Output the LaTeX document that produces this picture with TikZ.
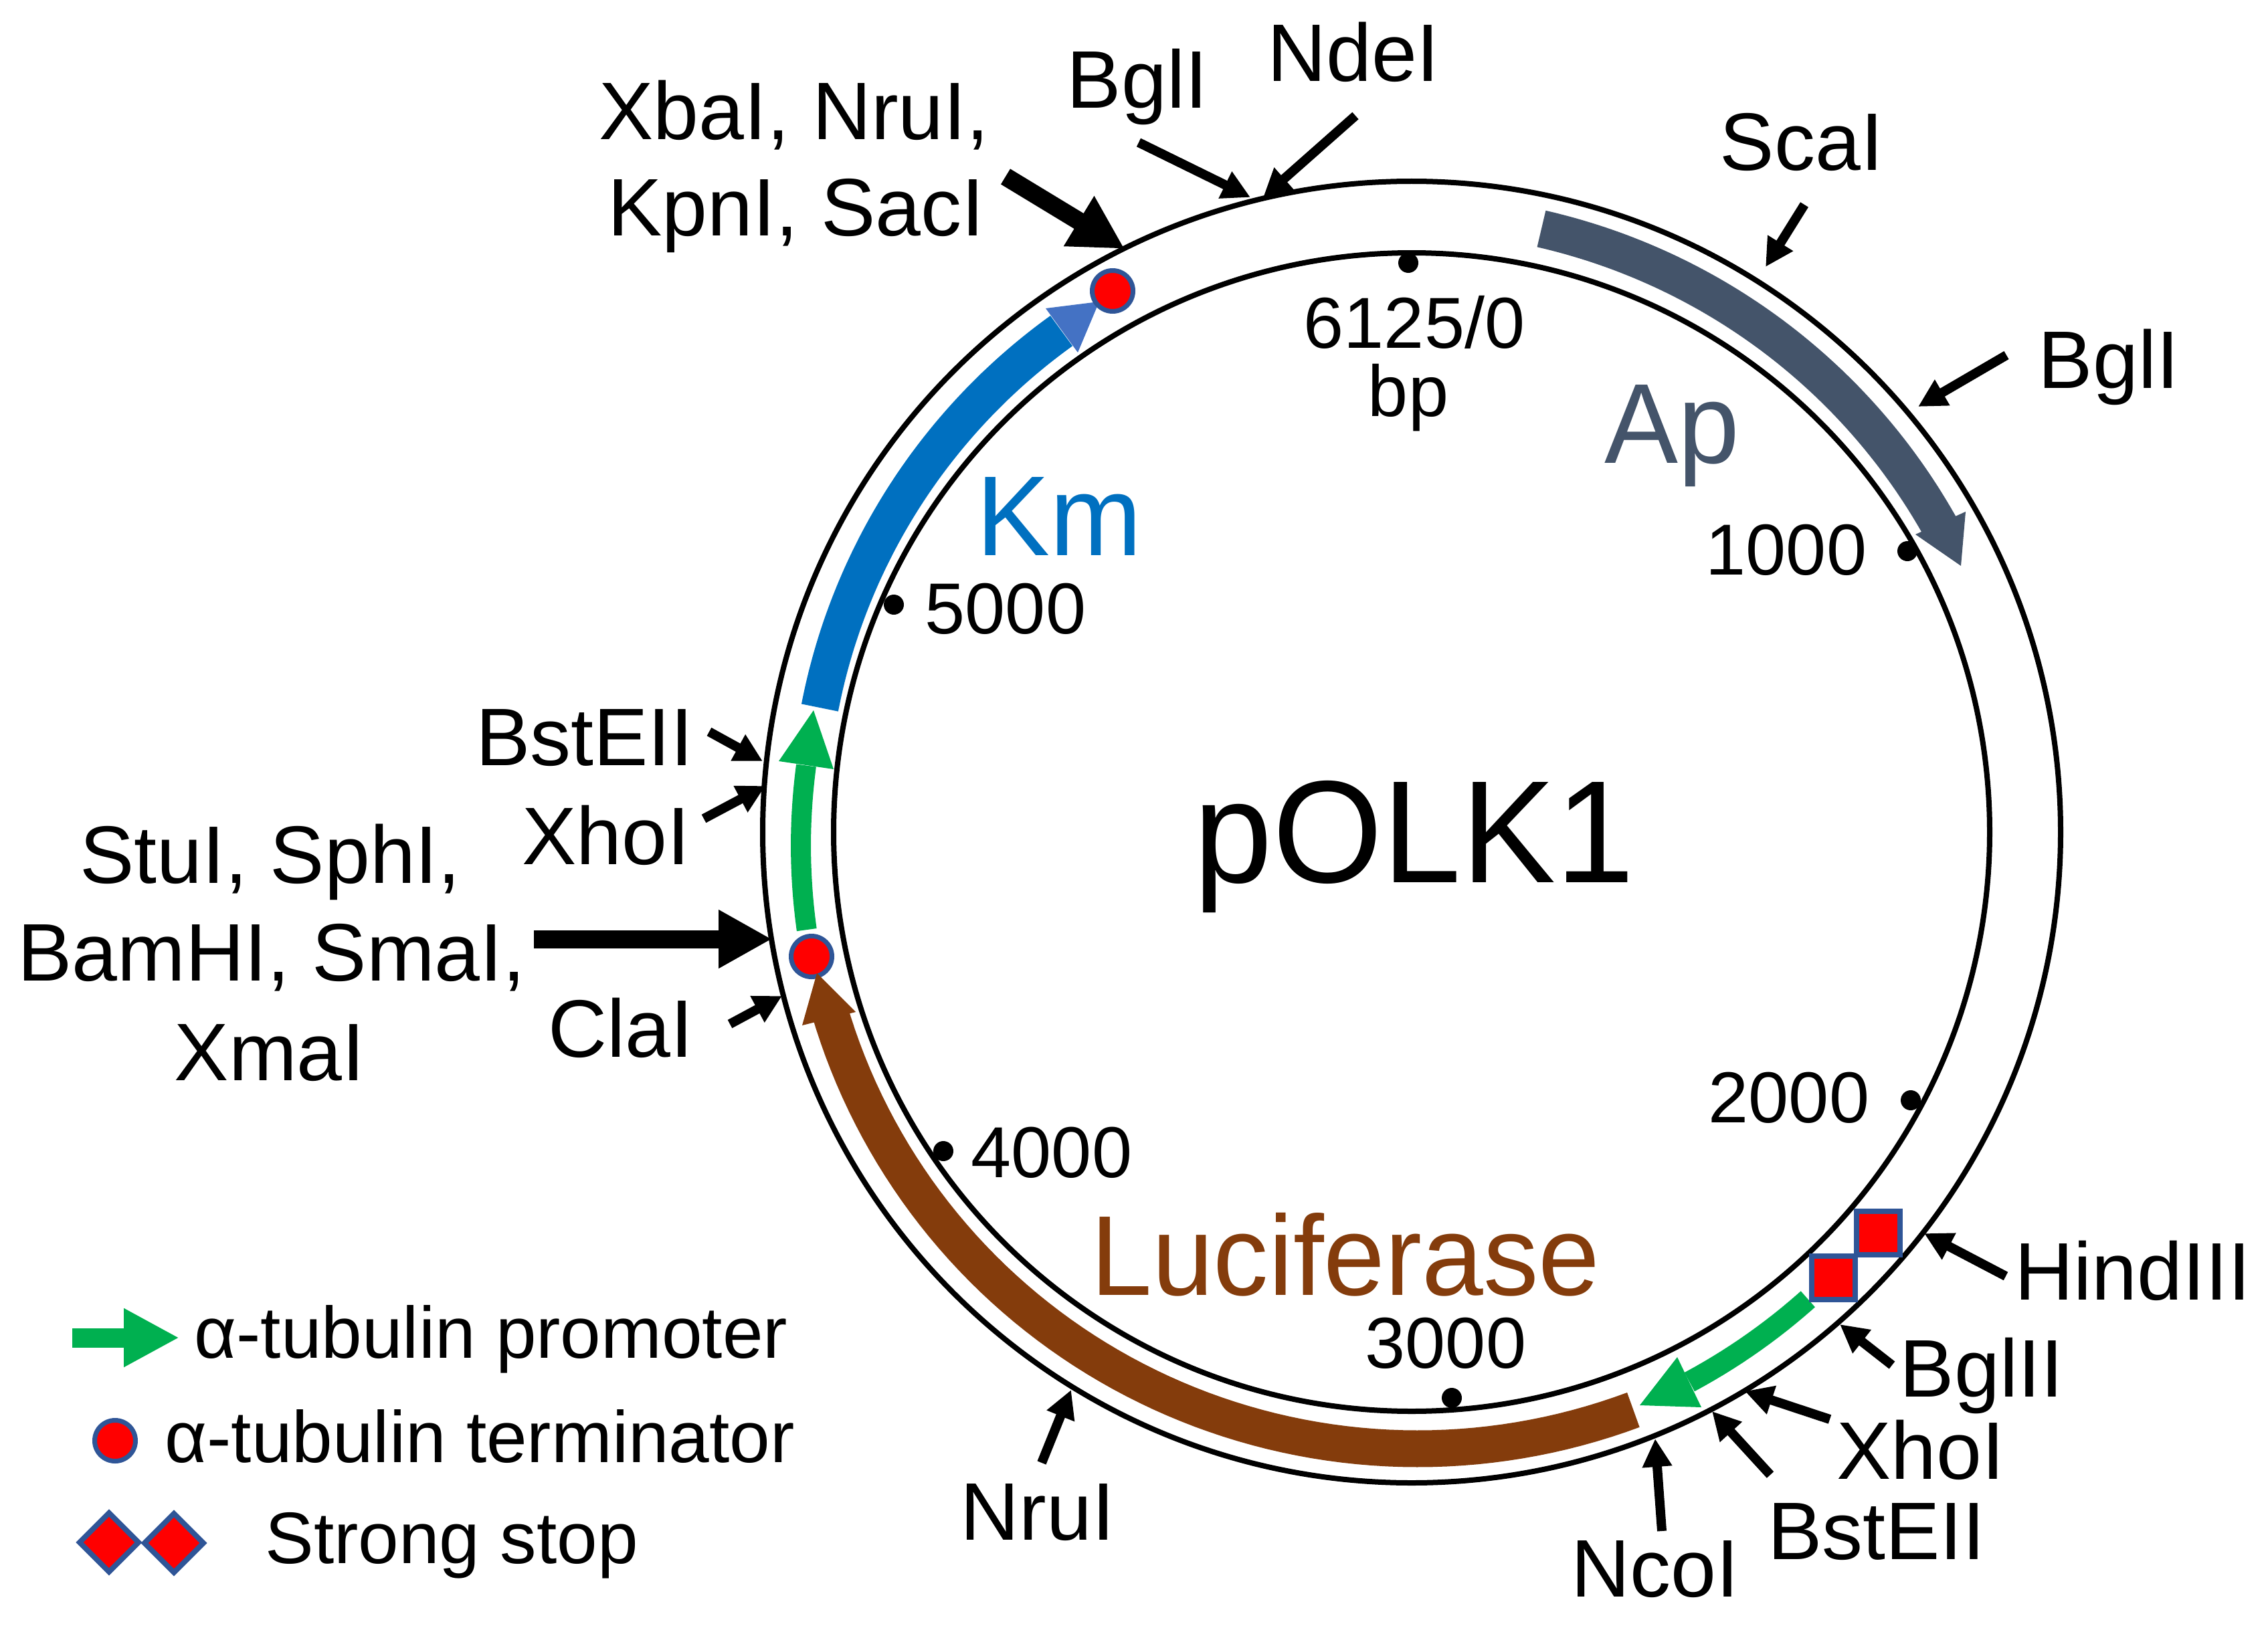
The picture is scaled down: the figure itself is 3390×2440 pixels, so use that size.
\documentclass[tikz,border=0pt]{standalone}
\usepackage{fontspec}
\usetikzlibrary{arrows.meta}
\setmainfont{Liberation Sans}
\newfontfamily\stretched[FakeStretch=0.97]{Liberation Sans}
\definecolor{apcol}{HTML}{44546A}
\definecolor{kmcol}{HTML}{0070C0}
\definecolor{kmhead}{HTML}{4472C4}
\definecolor{greencol}{HTML}{00B050}
\definecolor{browncol}{HTML}{843C0C}
\definecolor{rimcol}{HTML}{2F5597}
\newcommand{\cx}{2108}
\newcommand{\cy}{1244}
% band from (angle a, radius r) to (angle b, radius s), clockwise image angles
\newcommand{\band}[6]{\draw[#1,line width=#2pt,line cap=butt,line join=round]
  plot[domain=0:1,samples=70,variable=\t] ({\cx+(#4+(#6-#4)*\t)*cos(#3+(#5-#3)*\t)},{\cy+(#4+(#6-#4)*\t)*sin(#3+(#5-#3)*\t)});}
\newcommand{\cutarrow}[4]{\coordinate (#1a) at (#3); \coordinate (#1b) at (#4); \draw[#2] (#1a) -- (#1b);}
\tikzset{
  x=0.5pt,y=-0.5pt,
  ring/.style={draw=black,line width=4pt},
  site/.style={anchor=base,inner sep=0pt,font=\fontsize{61}{72}\selectfont,text=black},
  tick/.style={anchor=base,inner sep=0pt,font=\fontsize{54}{64}\selectfont,text=black},
  gene/.style={anchor=base,inner sep=0pt,font=\stretched\fontsize{85}{100}\selectfont},
  legendtext/.style={anchor=base west,inner sep=0pt,font=\fontsize{54.5}{64}\selectfont,text=black},
  tickdot/.style={circle,fill=black,draw=none,minimum size=15pt,inner sep=0pt},
  term/.style={circle,fill=red,draw=rimcol,line width=3.5pt,minimum size=30.5pt,inner sep=0pt},
  stopsq/.style={rectangle,fill=red,draw=rimcol,line width=4pt,minimum size=32.5pt,inner sep=0pt},
  stopdia/.style={fill=red,draw=rimcol,line width=4pt,line join=miter},
  small/.style={draw=black,line width=7pt,-{Triangle[length=21pt,width=21pt]}},
  big/.style={draw=black,line width=13.5pt,-{Triangle[length=40pt,width=41pt]}},
  legendarrow/.style={draw=greencol,line width=14.5pt,-{Triangle[length=41.5pt,width=41pt]}}
}
\begin{document}
\begin{tikzpicture}
\useasboundingbox (0,0) rectangle (3390,2440);
\fill[white] (0,0) rectangle (3390,2440);

% backbone
\coordinate (cen) at (2110,1244);
\draw[ring] (cen) ellipse[x radius=485pt,y radius=486.5pt];
\draw[ring] (cen) ellipse[x radius=432pt,y radius=433pt];

% tick dots
\node[tickdot] (d0) at (2105,393) {};
\node[tickdot] (d1) at (2851,824) {};
\node[tickdot] (d2) at (2856,1645) {};
\node[tickdot] (d3) at (2170,2090) {};
\node[tickdot] (d4) at (1410,1721) {};
\node[tickdot] (d5) at (1336,904) {};

% gene bands
\band{apcol}{28}{-77.74}{923}{-29.5}{914}
\fill[apcol] (2938,765) -- (2863,799) -- (2931,846) -- cycle;
\band{kmcol}{28}{191.9}{902}{235.2}{913}
\fill[kmhead] (1563,461) -- (1611,527) -- (1643,451) -- cycle;
\band{greencol}{15}{170.8}{914}{186.3}{908.5}
\fill[greencol] (1164,1138) -- (1246,1150) -- (1216,1062) -- cycle;
\band{browncol}{27.5}{68.9}{926}{163.2}{908}
\band{greencol}{16}{49.6}{917}{63.1}{922}
\fill[greencol] (2507,2029) -- (2543,2104) -- (2451,2101) -- cycle;

% terminators and stops
\node[term] (t1) at (1663,435) {};
\node[term] (t2) at (1213,1430) {};
\fill[browncol] (1199,1533) -- (1279,1513) -- (1221,1455) -- cycle;
\node[stopsq] (s1) at (2807.5,1843) {};
\node[stopsq] (s2) at (2740,1910.5) {};

% central and gene labels
\node[anchor=base,inner sep=0pt,font=\stretched\fontsize{109}{130}\selectfont] (title) at (2114,1319) {pOLK1};
\node[gene,text=apcol] (ap) at (2499,692) {Ap};
\node[gene,text=kmcol] (km) at (1583,830) {Km};
\node[gene,text=browncol] (luc) at (2011,1936) {Luciferase};

% tick labels
\node[tick] (l0a) at (2114,520) {6125/0};
\node[tick] (l0b) at (2105,622) {bp};
\node[tick] (l1) at (2670,859) {1000};
\node[tick] (l2) at (2674,1678) {2000};
\node[tick] (l3) at (2161,2045) {3000};
\node[tick] (l4) at (1572,1760) {4000};
\node[tick] (l5) at (1503,947) {5000};

% site labels
\node[site] (nde) at (2023,122) {NdeI};
\node[site] (bgl1) at (1700,162) {BglI};
\node[site] (xba) at (1187,209) {XbaI, NruI,};
\node[site] (kpn) at (1190,352) {KpnI, SacI};
\node[site] (sca) at (2693,255) {ScaI};
\node[site] (bgl2) at (3152,580) {BglI};
\node[site] (bst1) at (874,1144) {BstEII};
\node[site] (xho1) at (906,1292) {XhoI};
\node[site] (stu) at (404,1320) {StuI, SphI,};
\node[site] (bam) at (406,1466) {BamHI, SmaI,};
\node[site] (xma) at (403,1615) {XmaI};
\node[site] (cla) at (928,1580) {ClaI};
\node[site] (hin) at (3188,1943) {HindIII};
\node[site] (bgl3) at (2962,2088) {BglII};
\node[site] (xho2) at (2871,2211) {XhoI};
\node[site] (bst2) at (2805,2331) {BstEII};
\node[site] (nco) at (2474,2387) {NcoI};
\node[site] (nru) at (1551,2302) {NruI};

% site arrows
\cutarrow{A1}{big}{1503,264}{1681,372}
\cutarrow{A2}{small}{1702,213}{1869,295}
\cutarrow{A3}{small}{2026,173}{1888,295}
\cutarrow{A4}{small}{2697,306}{2639,399}
\cutarrow{A5}{small}{2999,531}{2867,608}
\cutarrow{A6}{small}{1060,1094}{1140,1138}
\cutarrow{A7}{small}{1052,1224}{1144,1175}
\cutarrow{A8}{big}{798,1404}{1154,1404}
\cutarrow{A9}{small}{1091,1531}{1169,1489}
\cutarrow{A10}{small}{1557,2187}{1601,2078}
\cutarrow{A11}{small}{2998,1908}{2876,1844}
\cutarrow{A12}{small}{2828,2041}{2750,1980}
\cutarrow{A13}{small}{2735,2122}{2608,2080}
\cutarrow{A14}{small}{2646,2205}{2559,2110}
\cutarrow{A15}{small}{2484,2289}{2474,2151}

% legend
\cutarrow{L1}{legendarrow}{108,2000}{268,2000}
\node[legendtext] (leg1) at (290,2030) {α-tubulin promoter};
\node[term] (leg2m) at (172,2154) {};
\node[legendtext] (leg2) at (246,2186) {α-tubulin terminator};
\draw[stopdia] (119,2306) -- (163,2262) -- (207,2306) -- (163,2350) -- cycle;
\draw[stopdia] (216,2307) -- (260,2263) -- (304,2307) -- (260,2351) -- cycle;
\node[legendtext] (leg3) at (396,2337) {Strong stop};
\end{tikzpicture}
\end{document}
